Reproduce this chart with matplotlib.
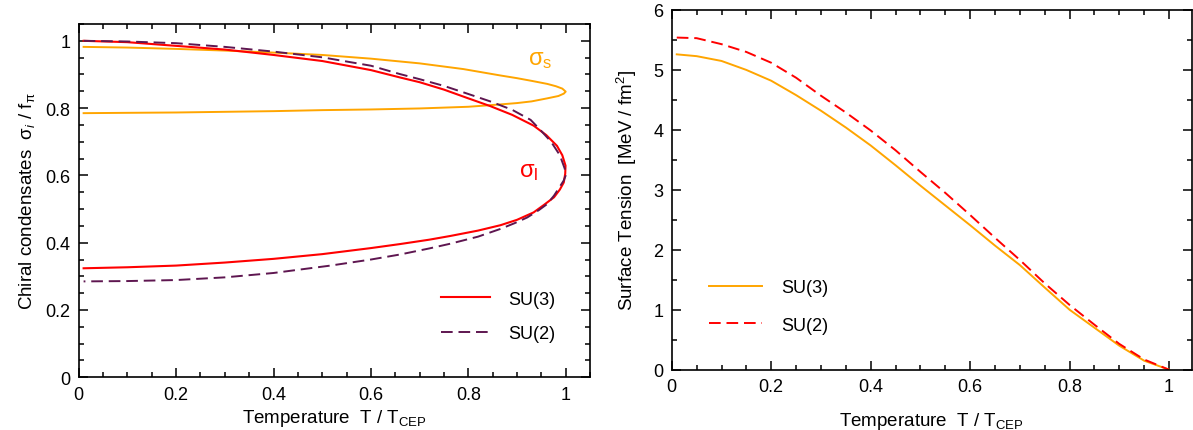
import matplotlib
matplotlib.use("Agg")
import matplotlib.pyplot as plt
from matplotlib.ticker import MultipleLocator, FuncFormatter

plt.rcParams['font.family'] = ['Liberation Sans', 'DejaVu Sans']
plt.rcParams['mathtext.fontset'] = 'custom'
plt.rcParams['mathtext.rm'] = 'Liberation Sans'
plt.rcParams['mathtext.it'] = 'Liberation Sans:italic'

# ---- Left panel: chiral condensates (T/T_CEP, sigma/f_pi), traced along each loop
sl3_T = [0.01, 0.1, 0.2, 0.3, 0.4, 0.5, 0.6, 0.66, 0.7, 0.75, 0.8, 0.845, 0.89, 0.934, 0.96, 0.982, 0.993, 0.9996,
         0.999, 0.996, 0.988, 0.976, 0.955, 0.934, 0.9, 0.866, 0.82, 0.763, 0.72, 0.66, 0.6, 0.5, 0.4, 0.3, 0.2, 0.1, 0.01]
sl3_S = [1.0, 0.996, 0.985, 0.974, 0.958, 0.940, 0.913, 0.891, 0.877, 0.855, 0.829, 0.806, 0.780, 0.748, 0.72, 0.688, 0.66, 0.629,
         0.605, 0.579, 0.558, 0.535, 0.512, 0.49, 0.468, 0.452, 0.436, 0.420, 0.409, 0.396, 0.384, 0.366, 0.352, 0.341, 0.332, 0.327, 0.324]

sl2_T = [0.01, 0.1, 0.2, 0.3, 0.4, 0.5, 0.6, 0.66, 0.7, 0.75, 0.8, 0.845, 0.89, 0.928, 0.948, 0.97, 0.988, 0.998, 1.0,
         0.996, 0.989, 0.976, 0.962, 0.945, 0.921, 0.895, 0.866, 0.82, 0.763, 0.72, 0.66, 0.6, 0.517, 0.4, 0.3, 0.2, 0.1, 0.01]
sl2_S = [1.0, 0.998, 0.993, 0.982, 0.968, 0.951, 0.926, 0.901, 0.886, 0.866, 0.842, 0.820, 0.795, 0.765, 0.735, 0.70, 0.66, 0.62, 0.60,
         0.585, 0.569, 0.54, 0.515, 0.497, 0.475, 0.458, 0.441, 0.418, 0.397, 0.383, 0.365, 0.350, 0.332, 0.31, 0.297, 0.289, 0.286, 0.285]

ss3_T = [0.01, 0.1, 0.2, 0.3, 0.4, 0.5, 0.6, 0.7, 0.79, 0.866, 0.9, 0.93, 0.962, 0.98, 0.993, 1.0,
         0.996, 0.985, 0.962, 0.93, 0.9, 0.866, 0.8, 0.7, 0.6, 0.5, 0.4, 0.3, 0.2, 0.1, 0.01]
ss3_S = [0.982, 0.980, 0.976, 0.971, 0.965, 0.958, 0.947, 0.933, 0.916, 0.897, 0.889, 0.881, 0.872, 0.865, 0.858, 0.849,
         0.843, 0.836, 0.829, 0.820, 0.815, 0.811, 0.804, 0.799, 0.796, 0.794, 0.791, 0.789, 0.787, 0.786, 0.785]

# ---- Right panel: surface tension (MeV/fm^2)
st_T = [0.01, 0.05, 0.1, 0.15, 0.2, 0.25, 0.3, 0.35, 0.4, 0.45, 0.5, 0.55, 0.6, 0.65, 0.7,
        0.75, 0.8, 0.85, 0.9, 0.95, 1.0]
st_su3 = [5.26, 5.23, 5.15, 5.0, 4.82, 4.58, 4.32, 4.04, 3.74, 3.41, 3.07, 2.74, 2.41, 2.07, 1.745,
          1.37, 1.0, 0.70, 0.40, 0.15, 0.0]
st_su2 = [5.54, 5.53, 5.43, 5.30, 5.12, 4.87, 4.57, 4.29, 3.99, 3.66, 3.30, 2.95, 2.58, 2.20, 1.83,
          1.44, 1.08, 0.75, 0.43, 0.17, 0.0]

ORANGE = '#FFA500'
RED = '#FF0000'
PURPLE = '#5E1650'

fig = plt.figure(figsize=(11.93, 4.31), dpi=100)
ax1 = fig.add_axes([0.066, 0.1223, 0.4286, 0.8197])
ax2 = fig.add_axes([0.5631, 0.1399, 0.4360, 0.8346])

TICKFS = 13
LABFS = 13.5

def fmt(v, p):
    return '%g' % round(v, 3)

def style(ax):
    ax.tick_params(which='both', direction='in', top=True, right=True, labelsize=TICKFS, width=1.1)
    ax.tick_params(which='major', length=6.5, pad=6)
    ax.tick_params(which='minor', length=3.5)
    for s in ax.spines.values():
        s.set_linewidth(1.2)
    ax.xaxis.set_major_formatter(FuncFormatter(fmt))
    ax.yaxis.set_major_formatter(FuncFormatter(fmt))

ax1.plot(ss3_T, ss3_S, color=ORANGE, lw=1.4)
ax1.plot(sl3_T, sl3_S, color=RED, lw=1.5, label='SU(3)')
ax1.plot(sl2_T, sl2_S, color=PURPLE, lw=1.4, dashes=(6, 3), label='SU(2)')
ax1.set_xlim(0, 1.05)
ax1.set_ylim(0, 1.05)
ax1.xaxis.set_major_locator(MultipleLocator(0.2))
ax1.xaxis.set_minor_locator(MultipleLocator(0.05))
ax1.yaxis.set_major_locator(MultipleLocator(0.2))
ax1.yaxis.set_minor_locator(MultipleLocator(0.05))
style(ax1)
ax1.set_xlabel(r'Temperature  T / T$_{\mathrm{CEP}}$', fontsize=LABFS, labelpad=3)
ax1.set_ylabel(r'Chiral condensates  σ$_i$ / f$_{\mathrm{π}}$', fontsize=LABFS, labelpad=6)
ax1.text(0.948, 0.946, r'σ$_{\mathrm{s}}$', color=ORANGE, fontsize=17, ha='center', va='center')
ax1.text(0.925, 0.613, r'σ$_{\mathrm{l}}$', color=RED, fontsize=17, ha='center', va='center')
ax1.legend(loc='upper left', bbox_to_anchor=(0.708, 0.245), frameon=False, fontsize=TICKFS,
           handlelength=2.75, handletextpad=1.0, labelspacing=0.95, borderpad=0, borderaxespad=0)

ax2.plot(st_T, st_su3, color=ORANGE, lw=1.4, label='SU(3)')
ax2.plot(st_T, st_su2, color=RED, lw=1.4, dashes=(6, 3), label='SU(2)')
ax2.set_xlim(0, 1.046)
ax2.set_ylim(0, 6)
ax2.xaxis.set_major_locator(MultipleLocator(0.2))
ax2.xaxis.set_minor_locator(MultipleLocator(0.05))
ax2.yaxis.set_major_locator(MultipleLocator(1))
ax2.yaxis.set_minor_locator(MultipleLocator(0.5))
style(ax2)
ax2.set_xlabel(r'Temperature  T / T$_{\mathrm{CEP}}$', fontsize=LABFS, labelpad=11)
ax2.set_ylabel(r'Surface Tension  [MeV / fm$^2$]', fontsize=LABFS, labelpad=10)
ax2.legend(loc='upper left', bbox_to_anchor=(0.072, 0.252), frameon=False, fontsize=TICKFS,
           handlelength=2.9, handletextpad=1.1, labelspacing=1.15, borderpad=0, borderaxespad=0)

fig.savefig('out.png', dpi=100)
